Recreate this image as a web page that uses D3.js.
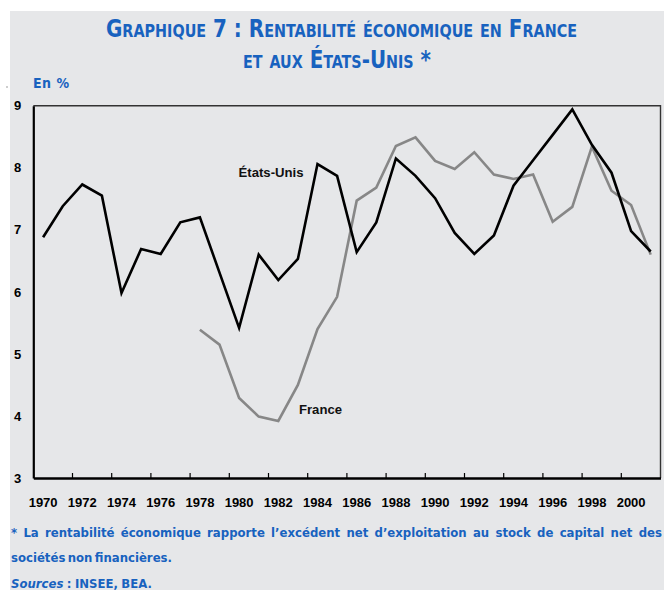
<!DOCTYPE html>
<html><head><meta charset="utf-8">
<script src="https://cdn.jsdelivr.net/npm/d3@7"></script>
<style>
html,body{margin:0;padding:0;background:#fff;}
svg{display:block;}
</style></head>
<body>
<svg id="chart" width="664" height="590"></svg>
<script>
const years = d3.range(1970, 2002);
const labelYears = d3.range(1970, 2001, 2);
const yTicks = [3, 4, 5, 6, 7, 8, 9];
const usValues = [6.88, 7.38, 7.73, 7.55, 5.98, 6.69, 6.61, 7.12, 7.20, 6.31,
  5.42, 6.60, 6.19, 6.53, 8.06, 7.87, 6.64, 7.12, 8.15, 7.87,
  7.51, 6.95, 6.61, 6.91, 7.71, 8.12, 8.53, 8.94, 8.37, 7.92,
  6.98, 6.65];
const franceYears = d3.range(1978, 2002);
const franceValues = [5.39, 5.15, 4.29, 3.99, 3.92, 4.50, 5.40, 5.92, 7.47, 7.68,
  8.35, 8.49, 8.11, 7.98, 8.25, 7.89, 7.82, 7.89, 7.13, 7.37,
  8.34, 7.63, 7.40, 6.60];

const blue = "#1862bf";
const narrow = "'Liberation Sans Narrow','DejaVu Sans Condensed','Arial Narrow','Liberation Sans',sans-serif";
const sans = "'Liberation Sans',Arial,sans-serif";

const svg = d3.select("#chart");
svg.append("rect").attr("x", 10).attr("y", 11).attr("width", 654).attr("height", 579).attr("fill", "#e6e7e9");
svg.append("circle").attr("cx", 7).attr("cy", 87).attr("r", 0.7).attr("fill", "#777");

const x = d3.scaleBand().domain(years).range([33.3, 660.5]).padding(0);
const y = d3.scaleLinear().domain([3, 9]).range([478, 105.7]);
const cx = d => x(d) + x.bandwidth() / 2;

// Title
const t1 = svg.append("text").attr("x", 341.5).attr("y", 37).attr("text-anchor", "middle")
  .attr("fill", blue).attr("font-family", narrow).attr("font-weight", "bold").attr("font-size", 25)
  .style("font-variant", "small-caps")
  .attr("textLength", 471).attr("lengthAdjust", "spacingAndGlyphs")
  .text("Graphique 7 : Rentabilité économique en France");
const t2 = svg.append("text").attr("x", 337).attr("y", 68).attr("text-anchor", "middle")
  .attr("fill", blue).attr("font-family", narrow).attr("font-weight", "bold").attr("font-size", 25)
  .style("font-variant", "small-caps")
  .attr("textLength", 188).attr("lengthAdjust", "spacingAndGlyphs")
  .text("et aux États-Unis *");

svg.append("text").attr("x", 33).attr("y", 88).attr("fill", blue)
  .attr("font-family", narrow).attr("font-weight", "bold").attr("font-size", 14)
  .attr("textLength", 36).attr("lengthAdjust", "spacing")
  .text("En %");

// Frame: top & right thin
svg.append("path")
  .attr("d", `M${x.range()[0]},${y(9)}H${x.range()[1]}V${y(3)}`)
  .attr("fill", "none").attr("stroke", "#333").attr("stroke-width", 1.4);

// Left axis
const yAxis = d3.axisLeft(y).tickValues(yTicks).tickSize(0).tickPadding(12).tickFormat(d3.format("d"));
const gy = svg.append("g").attr("transform", `translate(${x.range()[0]},0)`).call(yAxis);
gy.select(".domain").attr("stroke", "#000").attr("stroke-width", 2.2);
gy.selectAll("text").attr("font-family", sans).attr("font-weight", "bold").attr("font-size", 13).attr("fill", "#000");

// Bottom axis labels
const xAxis = d3.axisBottom(x).tickValues(labelYears).tickSize(0).tickPadding(20);
const gx = svg.append("g").attr("transform", `translate(0,${y(3)})`).call(xAxis);
gx.select(".domain").attr("stroke", "#000").attr("stroke-width", 2.6);
gx.selectAll("text").attr("font-family", sans).attr("font-weight", "bold").attr("font-size", 13).attr("fill", "#000");

// Inward ticks at category boundaries
svg.append("g").selectAll("line").data(d3.range(1972, 2001, 2)).join("line")
  .attr("x1", d => x(d)).attr("x2", d => x(d))
  .attr("y1", y(3)).attr("y2", y(3) - 5)
  .attr("stroke", "#000").attr("stroke-width", 1.2);

// Lines
const line = d3.line().x(d => cx(d[0])).y(d => y(d[1]));
svg.append("path").datum(franceYears.map((yr, i) => [yr, franceValues[i]]))
  .attr("d", line).attr("fill", "none").attr("stroke", "#878787").attr("stroke-width", 2.6)
  .attr("stroke-linejoin", "miter");
svg.append("path").datum(years.map((yr, i) => [yr, usValues[i]]))
  .attr("d", line).attr("fill", "none").attr("stroke", "#000").attr("stroke-width", 2.6)
  .attr("stroke-linejoin", "miter");

// Series labels
svg.append("text").attr("x", 238.5).attr("y", 177).attr("font-family", sans).attr("font-weight", "bold")
  .attr("font-size", 12.5).attr("fill", "#111").attr("textLength", 65).attr("lengthAdjust", "spacingAndGlyphs")
  .text("États-Unis");
svg.append("text").attr("x", 299).attr("y", 413.5).attr("font-family", sans).attr("font-weight", "bold")
  .attr("font-size", 12.5).attr("fill", "#111").attr("textLength", 43).attr("lengthAdjust", "spacingAndGlyphs")
  .text("France");

// Footnote
const fn1 = svg.append("text").attr("x", 11).attr("y", 536.5).attr("fill", blue)
  .attr("font-family", narrow).attr("font-weight", "bold").attr("font-size", 13)
  .text("* La rentabilité économique rapporte l’excédent net d’exploitation au stock de capital net des");
const w1 = fn1.node().getComputedTextLength();
const gaps = fn1.text().split(" ").length - 1;
fn1.style("word-spacing", ((651 - w1) / gaps) + "px");

const fn2 = svg.append("text").attr("x", 11).attr("y", 562).attr("fill", blue)
  .attr("font-family", narrow).attr("font-weight", "bold").attr("font-size", 13)
  .text("sociétés non financières.");
const w2 = fn2.node().getComputedTextLength();
fn2.style("word-spacing", ((161 - w2) / 2) + "px");

const fn3 = svg.append("text").attr("x", 11).attr("y", 587.5).attr("fill", blue)
  .attr("font-family", narrow).attr("font-weight", "bold").attr("font-size", 13);
fn3.append("tspan").attr("font-style", "italic").text("Sources");
fn3.append("tspan").text(" : INSEE, BEA.");
const w3 = fn3.node().getComputedTextLength();
fn3.style("word-spacing", ((141 - w3) / 3) + "px");
</script>
</body></html>
